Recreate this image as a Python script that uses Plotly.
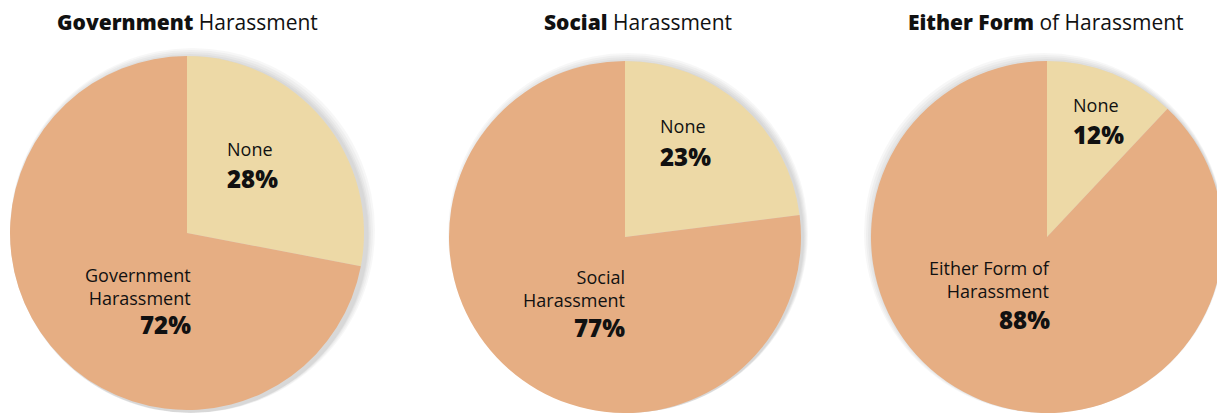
import plotly.graph_objects as go

titles_bold = ["Government", "Social", "Either Form"]
titles_rest = ["Harassment", "Harassment", "of Harassment"]
slice_names = ["None", "Harassment"]
big_labels = ["Government<br>Harassment", "Social<br>Harassment", "Either Form of<br>Harassment"]
none_values = [28, 23, 12]
harass_values = [72, 77, 88]

colors = ["#EDD9A6", "#E6AE83"]
FONT = "Open Sans, Arial, sans-serif"
OFF = 8  # page body margin
W, H = 1225 - OFF, 413 - OFF

# layout in window pixels
boxes = [(10, 364, 56, 410), (448, 802, 61, 413), (870, 1224, 61, 413)]  # l, r, t, b
title_x = [187, 638, 1046]
none_pos = [(225, 148.5, 178), (658, 126, 156.5), (1071, 104.5, 135)]  # x left, label y, pct y
big_pos = [(193, 286.5, 324), (627, 288, 327.5), (1052, 279, 319)]     # x right, label y, pct y


def clamp(v):
    return min(1, max(0, v))


def px(x):
    return (x - OFF) / W


def py(y):
    return 1 - (y - OFF) / H


fig = go.Figure()

for i in range(3):
    l, r, t, b = boxes[i]
    # soft shadow behind each pie
    for k in range(5):
        g = 2 * (k + 1)
        fig.add_trace(go.Pie(
            values=[1], labels=["s"], sort=False, textinfo="none", hoverinfo="skip",
            marker=dict(colors=["rgba(0,0,0,0.03)"], line=dict(width=0)),
            domain=dict(x=[clamp(px(l - g + 3)), clamp(px(r + g + 3))],
                        y=[clamp(py(b + g + 2)), clamp(py(t - g + 2))]),
            showlegend=False))

    fig.add_trace(go.Pie(
        values=[none_values[i], harass_values[i]], labels=slice_names,
        textinfo="none", sort=False, direction="clockwise", rotation=0,
        marker=dict(colors=colors, line=dict(width=0)),
        domain=dict(x=[clamp(px(l)), clamp(px(r))], y=[clamp(py(b)), clamp(py(t))]),
        showlegend=False))

    # title
    fig.add_annotation(x=px(title_x[i]), y=py(22), xref="paper", yref="paper",
                       text=f"<span style='font-weight:800'>{titles_bold[i]}</span> {titles_rest[i]}",
                       showarrow=False, xanchor="center", yanchor="middle", borderpad=0,
                       font=dict(family=FONT, size=21, color="#111111"))
    # None slice labels
    nx, ny, npy = none_pos[i]
    fig.add_annotation(x=px(nx), y=py(ny), xref="paper", yref="paper", text="None",
                       showarrow=False, xanchor="left", yanchor="middle",
                       font=dict(family=FONT, size=18, color="#111111"))
    fig.add_annotation(x=px(nx), y=py(npy), xref="paper", yref="paper",
                       text=f"<span style='font-weight:800'>{none_values[i]}%</span>",
                       showarrow=False, xanchor="left", yanchor="middle",
                       font=dict(family=FONT, size=24, color="#111111"))
    # harassment slice labels
    bx, by, bpy = big_pos[i]
    fig.add_annotation(x=px(bx), y=py(by), xref="paper", yref="paper", text=big_labels[i],
                       showarrow=False, xanchor="right", yanchor="middle", align="right",
                       font=dict(family=FONT, size=18, color="#111111"))
    fig.add_annotation(x=px(bx), y=py(bpy), xref="paper", yref="paper",
                       text=f"<span style='font-weight:800'>{harass_values[i]}%</span>",
                       showarrow=False, xanchor="right", yanchor="middle",
                       font=dict(family=FONT, size=24, color="#111111"))

fig.update_layout(width=W, height=H, margin=dict(l=0, r=0, t=0, b=0),
                  paper_bgcolor="white", plot_bgcolor="white", showlegend=False)

fig.write_html("out.html")
